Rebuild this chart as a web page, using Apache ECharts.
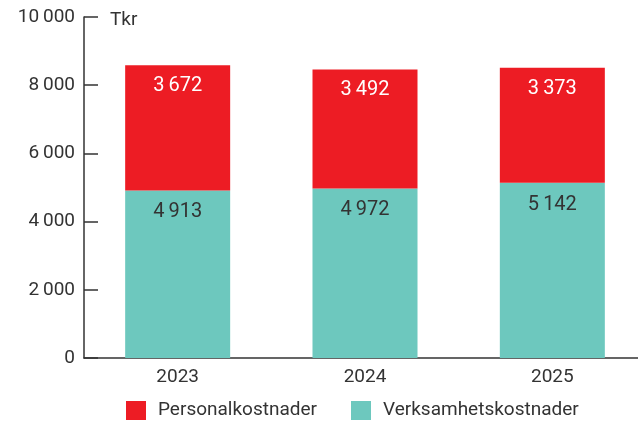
<!DOCTYPE html>
<html>
<head>
<meta charset="utf-8">
<script src="https://cdn.jsdelivr.net/npm/echarts@6/dist/echarts.min.js"></script>
<style>
  html, body { margin: 0; padding: 0; background: #fff; }
  #chart { width: 638px; height: 421px; }
</style>
</head>
<body>
<div id="chart"></div>
<script>
const years = ['2023', '2024', '2025']
const personal = [3672, 3492, 3373]
const verksamhet = [4913, 4972, 5142]
const seriesNames = ['Personalkostnader', 'Verksamhetskostnader']

const font = 'Roboto, "Liberation Sans", sans-serif'
const fmt = v => String(v).replace(/\B(?=(\d{3})+(?!\d))/g, '\u2009')

let myChart = echarts.init(document.getElementById('chart'))
myChart.setOption({
  animation: false,
  textStyle: { fontFamily: font },
  grid: {
    left: 84,
    width: 562,
    top: 17,
    height: 341,
    outerBoundsMode: 'none'
  },
  legend: {
    data: seriesNames,
    left: 126,
    top: 401,
    padding: 0,
    itemWidth: 20,
    itemHeight: 19,
    itemGap: 34,
    icon: 'rect',
    textStyle: {
      color: '#333',
      fontSize: 19,
      fontFamily: font,
      padding: [0, 0, 0, 7]
    }
  },
  graphic: [
    {
      type: 'text',
      left: 110,
      top: 11,
      style: { text: 'Tkr', fill: '#333', fontSize: 19, fontFamily: font }
    }
  ],
  xAxis: {
    type: 'category',
    data: years,
    axisTick: { show: false },
    axisLine: { lineStyle: { color: '#333', width: 1.5 } },
    axisLabel: { color: '#333', fontSize: 19, margin: 10 }
  },
  yAxis: {
    type: 'value',
    min: 0,
    max: 10000,
    interval: 2000,
    splitLine: { show: false },
    axisLine: { show: true, lineStyle: { color: '#333', width: 1.5 } },
    axisTick: { show: true, inside: true, length: 14, lineStyle: { color: '#333', width: 1.5 } },
    axisLabel: { color: '#333', fontSize: 19, margin: 9, formatter: fmt }
  },
  series: [
    {
      name: seriesNames[1],
      type: 'bar',
      stack: 'total',
      data: verksamhet,
      barWidth: 105,
      itemStyle: { color: '#6DC8BE' },
      label: {
        show: true,
        position: 'insideTop',
        distance: 12,
        color: '#333',
        fontSize: 20,
        formatter: p => fmt(p.value)
      }
    },
    {
      name: seriesNames[0],
      type: 'bar',
      stack: 'total',
      data: personal,
      barWidth: 105,
      itemStyle: { color: '#ED1C24' },
      label: {
        show: true,
        position: 'insideTop',
        distance: 11,
        color: '#fff',
        fontSize: 20,
        formatter: p => fmt(p.value)
      }
    }
  ]
})
</script>
</body>
</html>
